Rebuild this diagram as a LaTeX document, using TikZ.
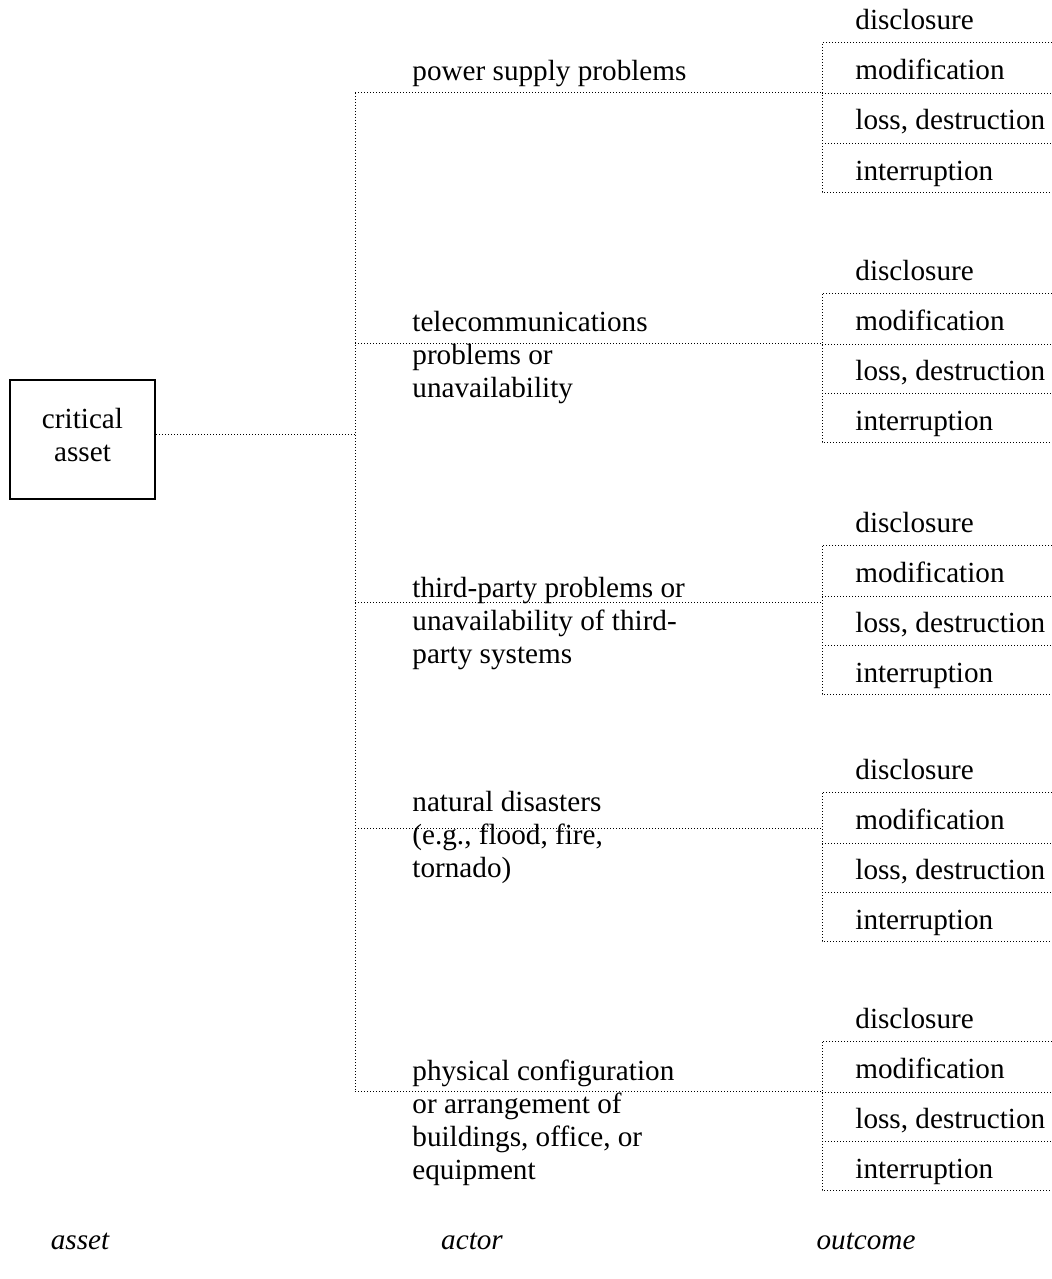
\documentclass[tikz,border=0pt]{standalone}
\usepackage{fontspec}
\setmainfont{Liberation Serif}
\usetikzlibrary{positioning}

\tikzset{
  lbl/.style={font=\fontsize{14.6}{16.5}\selectfont, inner sep=0pt, align=left},
  link/.style={line width=0.5pt, dash pattern=on 0.5pt off 1pt},
}

\begin{document}
\begin{tikzpicture}[x=0.5pt,y=-0.5pt]
    \useasboundingbox (0,0) rectangle (1052,1279);

    % asset box
    \node[draw, line width=1pt, minimum width=72.5pt, minimum height=59.5pt,
          lbl, align=center, text depth=5pt] (asset) at (82.5,439.5) {critical\\asset};

    % actors (base = last line)
    \node[lbl, anchor=base west] (act1) at (412,81)  {power supply problems};
    \node[lbl, anchor=base west] (act2) at (412,397) {telecommunications\\problems or\\unavailability};
    \node[lbl, anchor=base west] (act3) at (412,663) {third-party problems or\\unavailability of third-\\party systems};
    \node[lbl, anchor=base west] (act4) at (412,877) {natural disasters\\(e.g., flood, fire,\\tornado)};
    \node[lbl, anchor=base west] (act5) at (412,1179) {physical configuration\\or arrangement of\\buildings, office, or\\equipment};

    % branches and outcome stacks
    \foreach \g/\top/\br in {1/43/93, 2/293/343, 3/545/602, 4/792/828, 5/1041/1091} {
        \coordinate (t\g) at (355,\br);
        \coordinate (j\g) at (822,\br);
        \draw[link] (t\g) -- (j\g);
        \draw[link] (1052,\top) -| (822,\top+149) -- (1052,\top+149);
        \draw[link] (822,\top+51) -- (1052,\top+51);
        \draw[link] (822,\top+100) -- (1052,\top+100);
        \node[lbl, anchor=base west] (dis\g) at (855,\top-13)  {disclosure};
        \node[lbl, anchor=base west] (mod\g) at (855,\top+37)  {modification};
        \node[lbl, anchor=base west] (los\g) at (855,\top+87)  {loss, destruction};
        \node[lbl, anchor=base west] (int\g) at (855,\top+137) {interruption};
    }

    % trunk
    \draw[link] (t1) -- (t5);
    \draw[link] ([yshift=2.75pt]asset.east) -- ([yshift=2.75pt]asset.east -| t1);

    % column captions
    \node[lbl, font=\fontsize{14.6}{16.5}\selectfont\itshape, anchor=base] (capAsset)   at (80,1249)  {asset};
    \node[lbl, font=\fontsize{14.6}{16.5}\selectfont\itshape, anchor=base] (capActor)   at (472,1249) {actor};
    \node[lbl, font=\fontsize{14.6}{16.5}\selectfont\itshape, anchor=base] (capOutcome) at (866,1249) {outcome};
\end{tikzpicture}
\end{document}
